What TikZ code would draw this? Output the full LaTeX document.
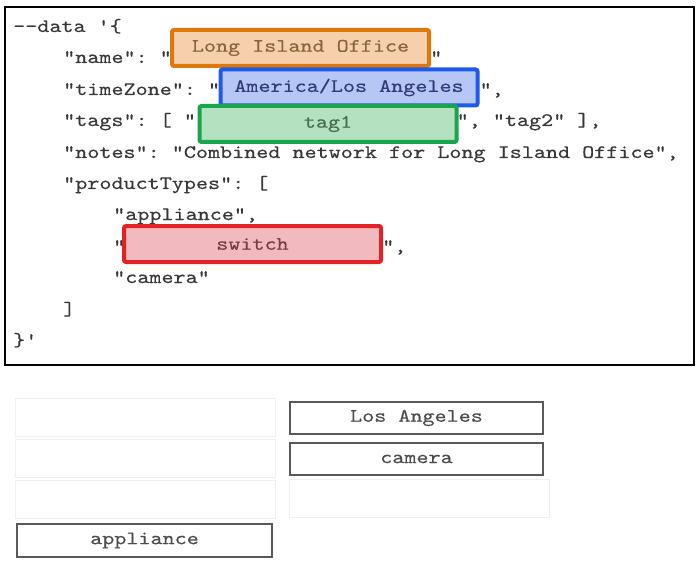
\documentclass[tikz,border=0pt]{standalone}
\usepackage{fontspec}
\usepackage{tikz}
\usetikzlibrary{positioning}
\newfontfamily\codefont[FakeStretch=1.21,FakeBold=0.4,Ligatures=TeXOff]{lmmono10-regular.otf}
\definecolor{morange}{RGB}{222, 120, 10}
\definecolor{lorange}{RGB}{246, 208, 172}
\definecolor{torange}{RGB}{140, 100, 60}
\definecolor{mblue}{RGB}{30, 90, 235}
\definecolor{lblue}{RGB}{182, 199, 245}
\definecolor{tblue}{RGB}{50, 60, 120}
\definecolor{mgreen}{RGB}{25, 165, 75}
\definecolor{lgreen}{RGB}{180, 226, 192}
\definecolor{tgreen}{RGB}{70, 110, 80}
\definecolor{mred}{RGB}{225, 35, 40}
\definecolor{lred}{RGB}{242, 186, 190}
\definecolor{tred}{RGB}{120, 60, 70}
\tikzset{code/.style = {anchor=base west, inner sep=0pt, text=black!78,
                        font=\codefont\fontsize{19}{21}\selectfont\frenchspacing}}
\tikzset{hilite/.style = {line width=4pt, rounded corners=2pt, inner sep=0pt,
                          minimum width=257pt, minimum height=36pt,
                          font=\codefont\fontsize{19}{21}\selectfont}}
\tikzset{answer/.style = {draw=black!65, line width=1.3pt, inner sep=0pt,
                          minimum width=253pt, minimum height=32pt, text=black!70,
                          font=\codefont\fontsize{19}{21}\selectfont}}
\tikzset{blank/.style = {draw=black!6, line width=1pt, inner sep=0pt,
                         minimum width=260pt, minimum height=38pt}}

\begin{document}
\begin{tikzpicture}[x=1pt, y=-1pt]
    \useasboundingbox (0, 0) rectangle (700, 561);
    \draw [line width=2.5pt] (5, 7) rectangle (694, 365);

    \node [code] (data) at (13, 32) {--data '\{};
    \node [code] (name) at (63, 63) {"name": "};
    \node [code] (zone) at (63, 95) {"timeZone": "};
    \node [code] (tags) at (63, 126) {"tags": [ "};
    \node [code] (notes) at (63, 158) {"notes": "Combined network for Long Island Office",};
    \node [code] (types) at (63, 189) {"productTypes": [};
    \node [code] (appl) at (113, 220) {"appliance",};
    \node [code] (swit) at (113, 252) {"};
    \node [code] (cam) at (113, 283) {"camera"};
    \node [code] (close) at (63, 315) {]};
    \node [code] (end) at (13, 346) {\}'};

    \node [hilite, fill=lorange, draw=morange, text=torange] (office) at (300.5, 48) {Long Island Office};
    \node [hilite, fill=lblue, draw=mblue, text=tblue] (tz) at (349, 87.5) {America/Los Angeles};
    \node [hilite, fill=lgreen, draw=mgreen, text=tgreen] (tag) at (328, 124) {tag1};
    \node [hilite, fill=lred, draw=mred, text=tred] (sw) at (252.5, 244) {switch};

    \node [code] (nameend) at ([xshift=-1pt]office.east |- name.base) {"};
    \node [code] (zoneend) at ([xshift=0pt]tz.east |- zone.base) {",};
    \node [code] (tagsend) at ([xshift=-2pt]tag.east |- tags.base) {", "tag2" ],};
    \node [code] (swend) at ([xshift=-1pt]sw.east |- swit.base) {",};

    \node [blank] (b1) at (145, 417.5) {};
    \node [blank] (b2) at (145, 458.5) {};
    \node [blank] (b3) at (145, 499) {};
    \node [blank] (b4) at (419, 498.5) {};

    \node [answer] (la) at (416.5, 418) {Los Angeles};
    \node [answer] (camera) at (416.5, 459) {camera};
    \node [answer, minimum width=255pt, minimum height=33pt] (appliance) at (144.5, 540.5) {appliance};
\end{tikzpicture}
\end{document}
